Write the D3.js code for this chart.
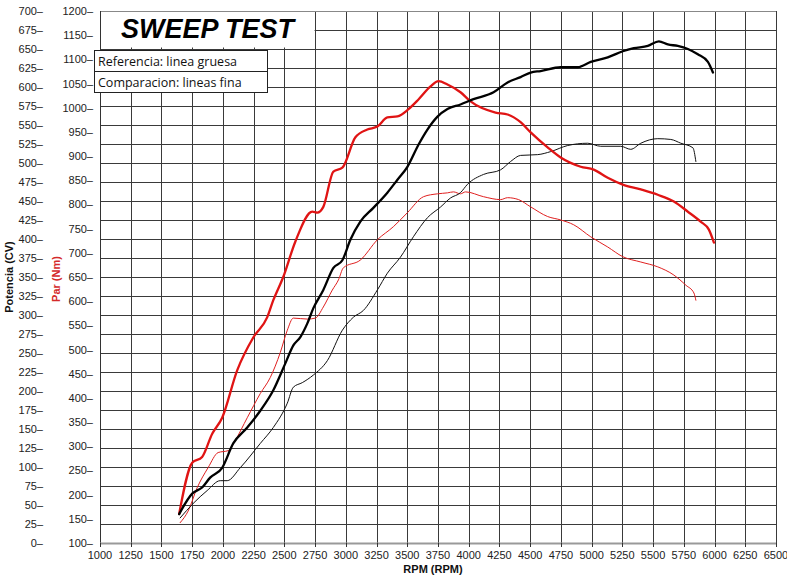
<!DOCTYPE html>
<html>
<head>
<meta charset="utf-8">
<script src="https://cdn.jsdelivr.net/npm/d3@7/dist/d3.min.js"></script>
<style>
  html, body { margin: 0; padding: 0; background: #fff; }
  svg { display: block; }
</style>
</head>
<body>
<svg id="chart" width="787" height="587"></svg>
<script>
// ---- Data ----
const rpmTicks = d3.range(1000, 6501, 250);
const powerTicks = d3.range(0, 701, 25);
const torqueTicks = d3.range(100, 1201, 50);

// Reference torque (thick red), Nm
const refTorqueRpm = [1644,1750,1831,1913,1994,2116,2247,2361,2410,2491,2589,2727,2768,2817,2899,2972,3078,3175,3257,3338,3420,3510,3591,3689,3754,3827,3933,4015,4218,4316,4422,4504,4642,4748,4911,5017,5131,5253,5400,5538,5669,5783,5889,5954,5995];
const refTorque    = [160,266,278,326,359,457,525,567,602,650,723,785,783,795,868,876,939,955,961,980,982,997,1017,1044,1055,1048,1032,1013,990,986,970,949,918,897,878,872,855,841,831,820,806,785,764,748,721];

// Reference power (thick black), CV
const refPowerRpm = [1644,1750,1831,1896,1994,2084,2198,2304,2410,2507,2573,2630,2687,2736,2817,2899,2972,3037,3118,3224,3338,3420,3501,3591,3664,3746,3827,3933,4039,4202,4316,4422,4504,4585,4748,4887,4993,5131,5253,5343,5457,5547,5620,5701,5783,5864,5946,5987];
const refPower    = [38,65,73,86,99,131,152,174,201,236,260,271,289,309,333,362,372,399,423,441,461,478,495,524,544,561,571,577,584,593,606,613,619,621,626,626,633,639,647,651,654,660,656,654,650,643,633,619];

// Comparison torque (thin red), Nm
const cmpTorqueRpm = [1652,1717,1790,1880,1961,2043,2100,2198,2304,2385,2467,2524,2573,2687,2752,2817,2890,2940,2980,3118,3257,3387,3501,3632,3746,3827,3876,3933,3974,4121,4259,4316,4406,4504,4642,4748,4854,4993,5131,5253,5400,5538,5669,5767,5832,5848];
const cmpTorque    = [142,166,214,256,287,291,312,359,409,442,494,540,565,563,565,588,623,644,669,685,727,754,783,816,822,824,826,822,826,816,810,814,810,795,775,768,758,733,712,692,681,671,654,633,617,602];

// Comparison power (thin black), CV
const cmpPowerRpm = [1652,1758,1872,1978,2035,2141,2304,2410,2524,2573,2646,2736,2850,2972,3061,3143,3257,3338,3444,3550,3664,3770,3852,3933,3990,4121,4259,4341,4422,4561,4667,4805,4968,5074,5237,5318,5400,5538,5644,5726,5824,5848];
const cmpPower    = [33,52,69,82,82,99,131,152,184,205,211,221,240,280,297,306,333,355,376,403,428,442,454,461,472,485,491,502,510,511,515,523,526,522,522,518,526,532,531,526,520,502];

const titleText = "SWEEP TEST";
const legendLines = ["Referencia: linea gruesa", "Comparacion: lineas fina"];

// ---- Drawing ----
const svg = d3.select("#chart");
const L = 100, R = 776, T = 11, B = 543;
const x = d3.scaleLinear().domain([1000, 6500]).range([L, R]);
const yP = d3.scaleLinear().domain([0, 700]).range([B, T]);
const yT = d3.scaleLinear().domain([100, 1200]).range([B, T]);

svg.append("rect").attr("width", 787).attr("height", 587).attr("fill", "#fff");

const grid = svg.append("g");
// vertical grid
grid.selectAll("line.v").data(rpmTicks.filter(d => d > 1000)).join("line")
  .attr("x1", d => Math.round(x(d)) + 0.5).attr("x2", d => Math.round(x(d)) + 0.5)
  .attr("y1", T).attr("y2", B)
  .attr("stroke", "#3a3a3a").attr("stroke-width", 1);
// horizontal grid
grid.selectAll("line.h").data(powerTicks.filter(d => d > 0)).join("line")
  .attr("x1", L).attr("x2", R)
  .attr("y1", d => Math.round(yP(d)) + 0.5).attr("y2", d => Math.round(yP(d)) + 0.5)
  .attr("stroke", "#3a3a3a").attr("stroke-width", 1);

// title box covering the grid
svg.append("rect").attr("x", L + 1).attr("y", T + 1)
  .attr("width", x(2750) - L - 1.5).attr("height", 35.5).attr("fill", "#fff");
svg.append("line").attr("x1", L).attr("x2", R).attr("y1", T + 0.5).attr("y2", T + 0.5)
  .attr("stroke", "#888").attr("stroke-width", 1);
svg.append("text").attr("x", (L + x(2750)) / 2).attr("y", 38)
  .attr("text-anchor", "middle")
  .attr("font-family", "Liberation Sans, Arial, sans-serif")
  .attr("font-weight", "bold").attr("font-style", "italic")
  .attr("font-size", 27).attr("fill", "#000").text(titleText);

// axes lines
svg.append("line").attr("x1", L + 0.5).attr("x2", L + 0.5).attr("y1", T).attr("y2", B)
  .attr("stroke", "#333").attr("stroke-width", 1);
svg.append("line").attr("x1", L).attr("x2", R).attr("y1", B + 0.5).attr("y2", B + 0.5)
  .attr("stroke", "#999").attr("stroke-width", 2);
svg.selectAll("line.xt").data(rpmTicks).join("line")
  .attr("x1", d => Math.round(x(d)) + 0.5).attr("x2", d => Math.round(x(d)) + 0.5)
  .attr("y1", B).attr("y2", B + 4).attr("stroke", "#333");

const labelFont = "Liberation Sans, Arial, sans-serif";
// x tick labels
svg.selectAll("text.xl").data(rpmTicks).join("text")
  .attr("x", d => x(d)).attr("y", 559)
  .attr("text-anchor", "middle").attr("font-family", labelFont)
  .attr("font-size", 11).attr("fill", "#222").text(d => d);
svg.append("text").attr("x", 433).attr("y", 573).attr("text-anchor", "middle")
  .attr("font-family", labelFont).attr("font-weight", "bold")
  .attr("font-size", 11).attr("fill", "#111").text("RPM (RPM)");

// left (power) labels
svg.selectAll("text.pl").data(powerTicks).join("text")
  .attr("x", 43).attr("y", d => yP(d) + 4)
  .attr("text-anchor", "end").attr("font-family", labelFont)
  .attr("font-size", 11).attr("fill", "#222").text(d => d + "–");
// right (torque) labels
svg.selectAll("text.tl").data(torqueTicks).join("text")
  .attr("x", 93).attr("y", d => yT(d) + 4)
  .attr("text-anchor", "end").attr("font-family", labelFont)
  .attr("font-size", 11).attr("fill", "#222").text(d => d + "–");

svg.append("text").attr("transform", "translate(13,277) rotate(-90)")
  .attr("text-anchor", "middle").attr("font-family", labelFont).attr("font-weight", "bold")
  .attr("font-size", 11).attr("fill", "#111").text("Potencia (CV)");
svg.append("text").attr("transform", "translate(60,279) rotate(-90)")
  .attr("text-anchor", "middle").attr("font-family", labelFont).attr("font-weight", "bold")
  .attr("font-size", 11).attr("fill", "#d42a2a").text("Par (Nm)");

// curves
const mk = (xs, ys, yScale) => xs.map((r, i) => [x(r), yScale(ys[i])]);
const line = d3.line().curve(d3.curveMonotoneX);
const series = [
  { pts: mk(cmpTorqueRpm, cmpTorque, yT), color: "#e02020", w: 1 },
  { pts: mk(cmpPowerRpm, cmpPower, yP), color: "#111", w: 1 },
  { pts: mk(refTorqueRpm, refTorque, yT), color: "#e01414", w: 2.3 },
  { pts: mk(refPowerRpm, refPower, yP), color: "#000", w: 2.3 }
];
svg.append("g").selectAll("path").data(series).join("path")
  .attr("d", d => line(d.pts)).attr("fill", "none")
  .attr("stroke", d => d.color).attr("stroke-width", d => d.w)
  .attr("stroke-linejoin", "round").attr("stroke-linecap", "round");

// legend
const lg = svg.append("g");
lg.append("rect").attr("x", 94.5).attr("y", 50.5).attr("width", 173).attr("height", 42)
  .attr("fill", "#fff").attr("stroke", "#222").attr("stroke-width", 1);
lg.append("line").attr("x1", 94.5).attr("x2", 267.5).attr("y1", 71.5).attr("y2", 71.5)
  .attr("stroke", "#222");
lg.selectAll("text").data(legendLines).join("text")
  .attr("x", 98).attr("y", (d, i) => 66 + i * 21)
  .attr("font-family", "Open Sans, Noto Sans, sans-serif")
  .attr("font-size", 12.5).attr("fill", "#111").text(d => d);
</script>
</body>
</html>
